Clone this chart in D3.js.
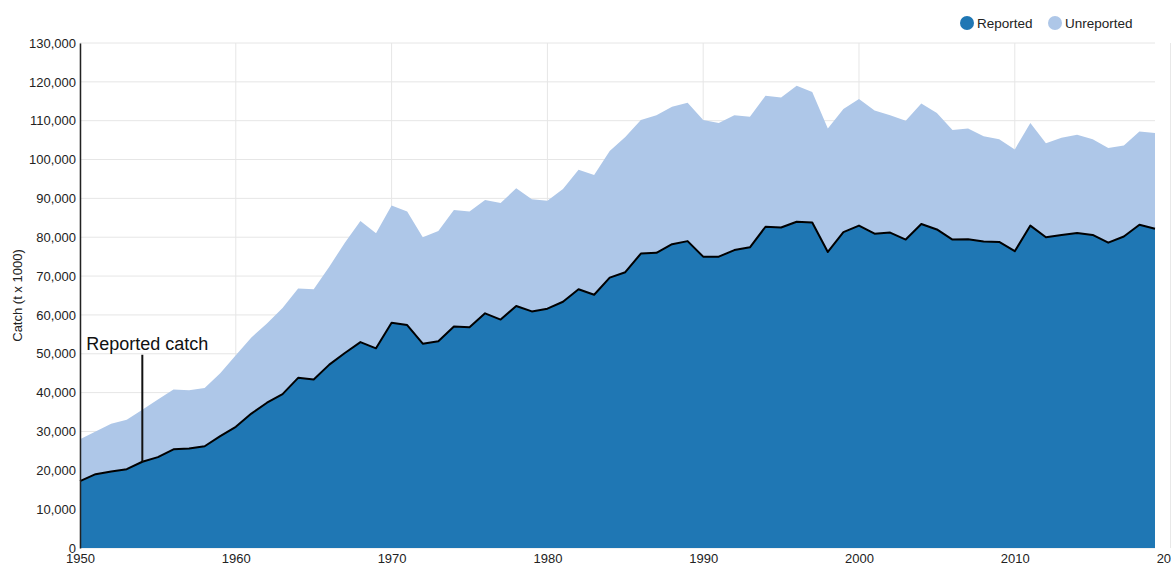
<!DOCTYPE html>
<html lang="en">
<head>
<meta charset="UTF-8">
<title>Catch</title>
<style>
  html, body { margin: 0; padding: 0; background: #fff; overflow: hidden; }
  svg { font-family: "Liberation Sans", Arial, sans-serif; display: block; }
  .grid line { stroke: #e6e6e6; stroke-width: 1; }
  .tick text { fill: #222; font-size: 13px; }
</style>
</head>
<body>
<script src="https://cdn.jsdelivr.net/npm/d3@7"></script>
<script>
// years 1950..2019, catch in t x 1000
var years = d3.range(1950, 2020);

var reported = [17200, 19000, 19700, 20300, 22200, 23400, 25400, 25600, 26200, 28800,
  31200, 34600, 37400, 39600, 43800, 43400, 47200, 50200, 53000, 51400,
  58000, 57400, 52600, 53200, 57000, 56800, 60400, 58800, 62300, 60900,
  61600, 63400, 66600, 65200, 69600, 71000, 75800, 76000, 78200, 79000,
  75000, 75000, 76700, 77400, 82700, 82500, 84000, 83800, 76200, 81300,
  83000, 80900, 81200, 79400, 83400, 82000, 79400, 79500, 78900, 78800,
  76400, 83000, 80000, 80600, 81100, 80600, 78600, 80200, 83200, 82200];

var unreported = [10800, 11000, 12300, 12700, 13400, 14800, 15400, 15000, 15000, 16200,
  18400, 19600, 20400, 22200, 23000, 23200, 25200, 28400, 31200, 29600,
  30200, 29200, 27400, 28400, 30000, 29800, 29200, 30000, 30300, 28900,
  27800, 29000, 30800, 30800, 32600, 34800, 34400, 35400, 35400, 35600,
  35200, 34400, 34700, 33600, 33700, 33500, 35000, 33600, 31800, 31700,
  32600, 31700, 30200, 30600, 31000, 30000, 28200, 28500, 27100, 26400,
  26200, 26400, 24200, 25000, 25300, 24600, 24400, 23400, 24000, 24600];

var xTicks = [1950, 1960, 1970, 1980, 1990, 2000, 2010, 2020];
var yTicks = d3.range(0, 130001, 10000);
var seriesNames = ["Reported", "Unreported"];
var colors = ["#1f77b4", "#aec7e8"];

var margin = {top: 43, right: 16, bottom: 18, left: 80},
    w = 1155 - margin.left,
    h = 548 - margin.top;

var svg = d3.select("body").append("svg")
  .attr("width", 1171)
  .attr("height", 566)
  .style("overflow", "visible");

var chart = svg.append("g")
  .attr("transform", "translate(" + margin.left + "," + margin.top + ")");

var x = d3.scaleLinear().domain([1950, 2019]).range([0, w]);
var y = d3.scaleLinear().domain([0, 130000]).range([h, 0]);

// gridlines
chart.append("g").attr("class", "grid")
  .selectAll("line").data(yTicks).enter().append("line")
  .attr("x1", 0).attr("x2", w)
  .attr("y1", function(d) { return y(d); })
  .attr("y2", function(d) { return y(d); });

chart.append("g").attr("class", "grid")
  .selectAll("line").data(xTicks).enter().append("line")
  .attr("x1", function(d) { return x(d); })
  .attr("x2", function(d) { return x(d); })
  .attr("y1", 0).attr("y2", h);

var data = years.map(function(yr, i) {
  return {year: yr, Reported: reported[i], Unreported: unreported[i]};
});

var stack = d3.stack().keys(seriesNames)(data);

var area = d3.area()
  .x(function(d) { return x(d.data.year); })
  .y0(function(d) { return y(d[0]); })
  .y1(function(d) { return y(d[1]); });

chart.selectAll(".layer")
  .data(stack).enter().append("path")
  .attr("class", "layer")
  .attr("fill", function(d, i) { return colors[i]; })
  .attr("d", area);

// reported line
var line = d3.line()
  .x(function(d, i) { return x(years[i]); })
  .y(function(d) { return y(d); });

chart.append("path")
  .datum(reported)
  .attr("fill", "none")
  .attr("stroke", "#000")
  .attr("stroke-width", 2)
  .attr("stroke-linejoin", "round")
  .attr("d", line);

// axes
var yAxis = d3.axisLeft(y).tickValues(yTicks).tickSize(0).tickPadding(4)
  .tickFormat(d3.format(","));
chart.append("g").call(yAxis)
  .call(function(g) { g.select(".domain").attr("stroke", "#222").attr("stroke-width", 1.5); });

var xAxis = d3.axisBottom(x).tickValues(xTicks).tickSize(0).tickPadding(6)
  .tickFormat(d3.format("d"));
chart.append("g").attr("transform", "translate(0," + h + ")").call(xAxis)
  .call(function(g) { g.select(".domain").remove(); });

// y title
svg.append("text")
  .attr("transform", "translate(22," + (margin.top + h / 2) + ") rotate(-90)")
  .attr("text-anchor", "middle")
  .attr("font-size", "13px")
  .attr("fill", "#222")
  .text("Catch (t x 1000)");

// annotation
var annYear = 1954, annIdx = years.indexOf(annYear);
chart.append("line")
  .attr("x1", x(annYear)).attr("x2", x(annYear))
  .attr("y1", y(50000) + 1).attr("y2", y(reported[annIdx]))
  .attr("stroke", "#111").attr("stroke-width", 2);
chart.append("text")
  .attr("x", x(annYear) - 56)
  .attr("y", y(50000) - 4)
  .attr("font-size", "18px")
  .attr("fill", "#111")
  .text("Reported catch");

// legend
var legend = svg.append("g").attr("transform", "translate(967,23)");
var lx = [0, 88];
seriesNames.forEach(function(name, i) {
  legend.append("circle").attr("cx", lx[i]).attr("cy", 0).attr("r", 7).attr("fill", colors[i]);
  legend.append("text").attr("x", lx[i] + 10).attr("y", 5)
    .attr("font-size", "13.5px").attr("fill", "#222").text(name);
});
</script>
</body>
</html>
